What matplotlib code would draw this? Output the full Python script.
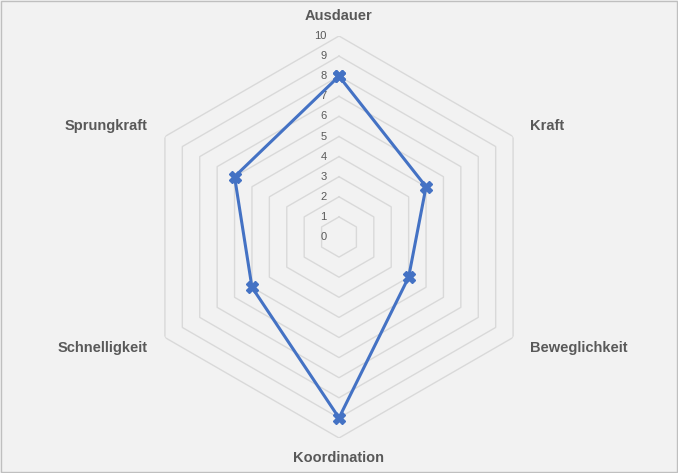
import numpy as np
import matplotlib.pyplot as plt

categories = ['Ausdauer', 'Kraft', 'Beweglichkeit', 'Koordination', 'Schnelligkeit', 'Sprungkraft']
values = [8, 5, 4, 9, 5, 6]
ticks = list(range(0, 11))

fig = plt.figure(figsize=(6.78, 4.73), dpi=100, facecolor='#f2f2f2')
# light gray frame around the chart area
fig.patches.append(plt.Rectangle((0.002, 0.002), 0.996, 0.996, transform=fig.transFigure,
                                 fill=False, edgecolor='#bfbfbf', linewidth=1))
ax = fig.add_axes([138 / 678, 35 / 473, 402 / 678, 402 / 473], projection='polar')
ax.set_theta_zero_location('N')
ax.set_theta_direction(-1)
ax.set_ylim(0, 10)
ax.grid(False)
ax.spines['polar'].set_visible(False)
ax.set_xticks([])
ax.set_yticks([])
ax.patch.set_alpha(0)

n = len(categories)
angles = np.linspace(0, 2 * np.pi, n, endpoint=False)
closed = np.append(angles, angles[0])

# hexagonal grid
for r in ticks[1:]:
    ax.plot(closed, [r] * (n + 1), color='#d9d9d9', linewidth=1.0, zorder=1)

# tick labels along the top spoke
for r in ticks:
    ax.annotate(str(r), xy=(0, r), xytext=(-9, 0), textcoords='offset points',
                ha='right', va='center', fontsize=8, color='#595959', family='Liberation Sans')

# category labels
for a, c in zip(angles, categories):
    ha = 'center'
    if 0 < a < np.pi:
        ha = 'left'
    elif a > np.pi:
        ha = 'right'
    ax.text(a, 11.0, c, ha=ha, va='center', fontsize=10.5, fontweight='bold',
            color='#595959', family='Liberation Sans')

vals = values + [values[0]]
ax.plot(closed, vals, color='#4472C4', linewidth=2.2, marker='X', markersize=9,
        markeredgecolor='#4472C4', zorder=3, clip_on=False)

fig.savefig('out.png', dpi=100, facecolor=fig.get_facecolor())
